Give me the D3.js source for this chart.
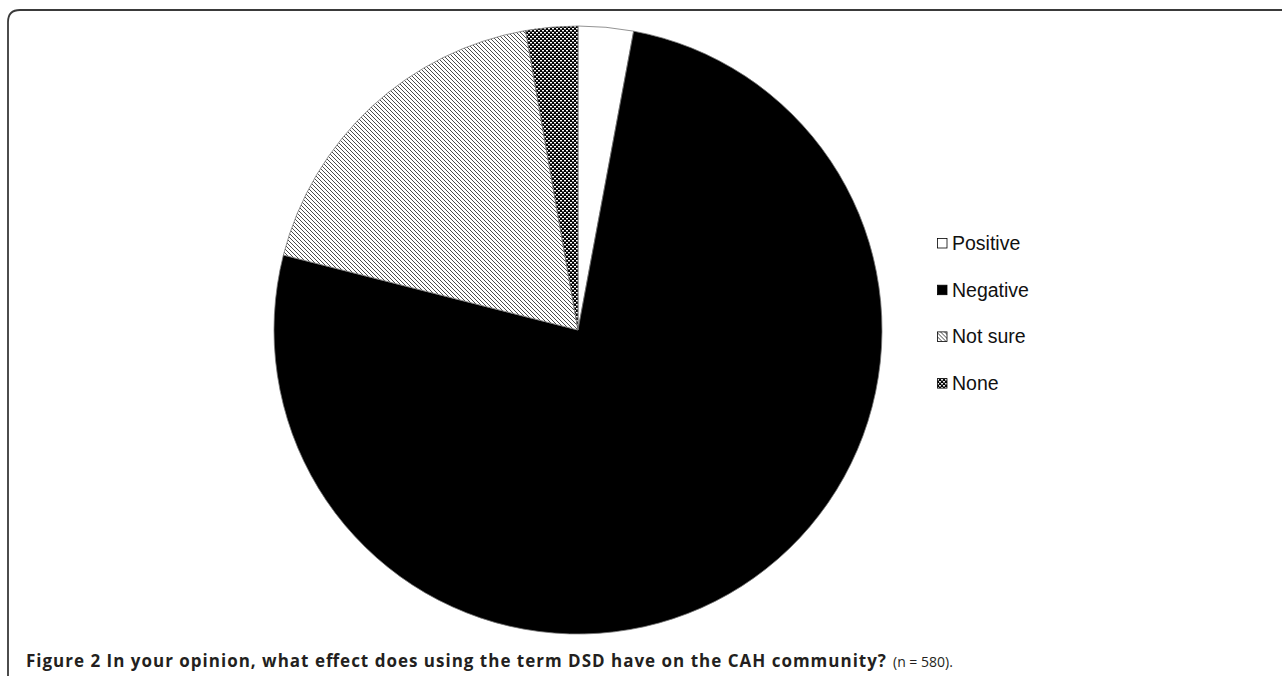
<!DOCTYPE html>
<html>
<head>
<meta charset="utf-8">
<script src="https://cdn.jsdelivr.net/npm/d3@7"></script>
<style>
  html, body { margin: 0; padding: 0; background: #fff; }
  svg { display: block; }
</style>
</head>
<body>
<svg id="chart" width="1282" height="676"></svg>
<script>
// Survey responses (n = 580)
const categories = ["Positive", "Negative", "Not sure", "None"];
const counts = [17, 441, 106, 16];
const fills = ["#ffffff", "#000000", "url(#hatch)", "url(#grid)"];

const svg = d3.select("#chart");
const W = 1282, H = 676;

// Fill patterns
const defs = svg.append("defs");
const hatch = defs.append("pattern")
  .attr("id", "hatch").attr("patternUnits", "userSpaceOnUse")
  .attr("width", 4).attr("height", 4);
hatch.append("rect").attr("width", 4).attr("height", 4).attr("fill", "#fff");
hatch.append("path").attr("d", "M-1,-1 L5,5 M-1,3 L1,5 M3,-1 L5,1")
  .attr("stroke", "#2a2a2a").attr("stroke-width", 0.85);

const grid = defs.append("pattern")
  .attr("id", "grid").attr("patternUnits", "userSpaceOnUse")
  .attr("width", 4).attr("height", 4);
grid.append("rect").attr("width", 4).attr("height", 4).attr("fill", "#000");
grid.append("rect").attr("x", 0).attr("y", 0).attr("width", 2).attr("height", 1.4).attr("fill", "#fff");
grid.append("rect").attr("x", 2).attr("y", 2).attr("width", 2).attr("height", 1.4).attr("fill", "#fff");

// Frame: rounded top-left corner, open on right and bottom
const fx = 8, fy = 10, fr = 12;
svg.append("path")
  .attr("d", `M${fx},${H} L${fx},${fy + fr} Q${fx},${fy} ${fx + fr},${fy} L${W},${fy}`)
  .attr("fill", "none").attr("stroke", "#3a3a3a").attr("stroke-width", 1.8);

// Pie
const cx = 578, cy = 330, r = 304;
const pie = d3.pie().sort(null).value(d => d)(counts);
const arc = d3.arc().innerRadius(0).outerRadius(r);
const g = svg.append("g").attr("transform", `translate(${cx},${cy})`);
g.selectAll("path.slice").data(pie).join("path")
  .attr("class", "slice")
  .attr("d", arc)
  .attr("fill", (d, i) => fills[i])
  .attr("stroke", "#777").attr("stroke-width", 0.8);

// Legend
const legend = svg.append("g").attr("transform", "translate(937,243)");
const item = legend.selectAll("g").data(categories).join("g")
  .attr("transform", (d, i) => `translate(0,${i * 46.7})`);
item.append("rect")
  .attr("x", 0.5).attr("y", -4.5).attr("width", 9.5).attr("height", 9.5)
  .attr("fill", (d, i) => fills[i])
  .attr("stroke", "#000").attr("stroke-width", 0.8);
item.append("text")
  .attr("x", 15).attr("y", 7)
  .attr("font-family", "Liberation Sans, Arial, sans-serif").attr("font-size", 19.5)
  .attr("fill", "#111")
  .text(d => d);

// Caption
const capY = 666.5;
svg.append("text")
  .attr("x", 26).attr("y", capY)
  .attr("font-family", "Open Sans, sans-serif").attr("font-size", 17)
  .attr("font-weight", "bold").attr("fill", "#231f20")
  .attr("textLength", 860).attr("lengthAdjust", "spacing")
  .text("Figure 2 In your opinion, what effect does using the term DSD have on the CAH community?");
svg.append("text")
  .attr("x", 893).attr("y", capY)
  .attr("font-family", "Open Sans, sans-serif").attr("font-size", 14)
  .attr("fill", "#231f20")
  .text("(n = 580).");
</script>
</body>
</html>
